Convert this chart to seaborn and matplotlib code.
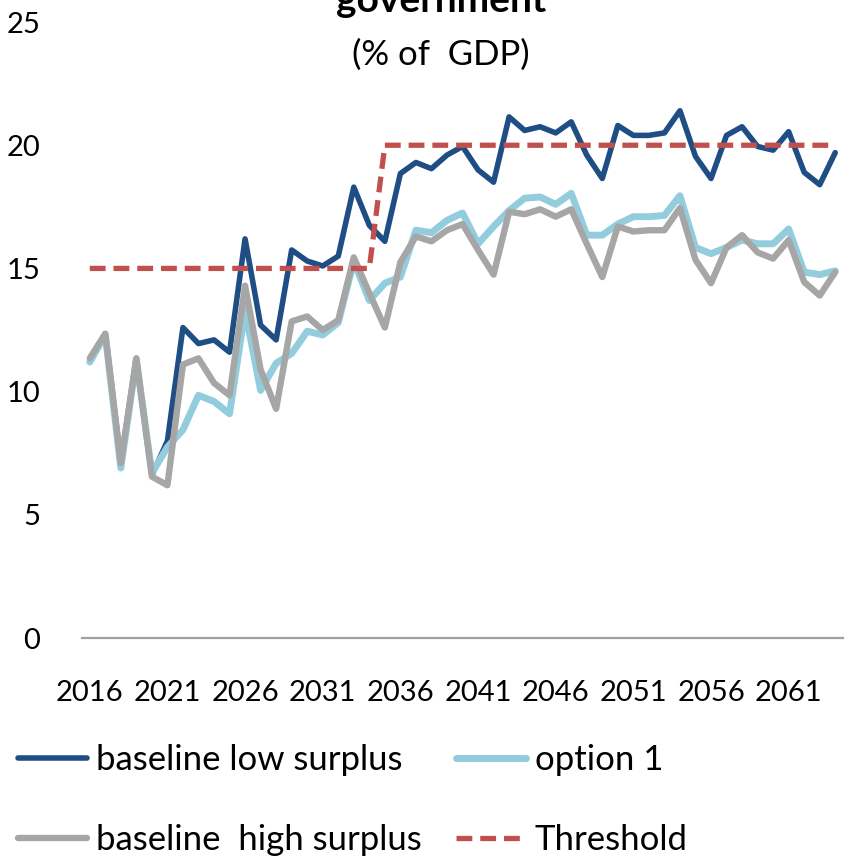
import numpy as np
import pandas as pd
import matplotlib
matplotlib.use("Agg")
import matplotlib.pyplot as plt
from matplotlib.lines import Line2D
import seaborn as sb

sb.set_style("white")
plt.rcParams['font.family'] = ['Lato', 'DejaVu Sans']
plt.rcParams.update({'text.color': 'black', 'xtick.color': 'black', 'ytick.color': 'black'})

# === DATA ===
years = list(range(2016, 2065))

baseline_low = [11.35, 12.35, 7.1, 11.35, 6.6, 8.0, 12.6, 11.95, 12.1, 11.6,
                16.2, 12.7, 12.1, 15.75, 15.3, 15.1, 15.5, 18.3, 16.75, 16.1,
                18.85, 19.3, 19.05, 19.6, 19.95, 19.0, 18.5, 21.15, 20.6, 20.75,
                20.5, 20.95, 19.6, 18.65, 20.8, 20.4, 20.4, 20.5, 21.4, 19.55,
                18.65, 20.4, 20.75, 19.95, 19.8, 20.55, 18.9, 18.4, 19.7]

option_1 = [11.2, 12.3, 6.9, 11.3, 6.7, 7.75, 8.45, 9.85, 9.6, 9.1,
            13.3, 10.05, 11.15, 11.55, 12.45, 12.3, 12.8, 15.3, 13.7, 14.4,
            14.65, 16.55, 16.45, 16.95, 17.25, 16.0, 16.7, 17.35, 17.85, 17.9,
            17.6, 18.05, 16.35, 16.35, 16.8, 17.1, 17.1, 17.15, 17.95, 15.85,
            15.6, 15.85, 16.15, 16.0, 16.0, 16.6, 14.85, 14.75, 14.9]

baseline_high = [11.35, 12.35, 7.1, 11.35, 6.55, 6.2, 11.1, 11.35, 10.35, 9.85,
                 14.3, 10.9, 9.3, 12.85, 13.05, 12.5, 12.9, 15.45, 14.0, 12.6,
                 15.25, 16.3, 16.1, 16.55, 16.8, 15.75, 14.75, 17.3, 17.2, 17.4,
                 17.1, 17.4, 16.0, 14.65, 16.7, 16.5, 16.55, 16.55, 17.45, 15.35,
                 14.4, 15.85, 16.35, 15.65, 15.4, 16.15, 14.45, 13.9, 14.85]

threshold = [15] * 19 + [20] * 30

labels = ['baseline low surplus', 'option 1', 'baseline  high surplus', 'Threshold']
colors = {'baseline low surplus': '#1f4e85', 'option 1': '#93cddd',
          'baseline  high surplus': '#a6a6a6', 'Threshold': '#c0504d'}

data = pd.DataFrame({'Year': years,
                     'baseline low surplus': baseline_low,
                     'option 1': option_1,
                     'baseline  high surplus': baseline_high,
                     'Threshold': threshold})

# === PLOT ===
fig = plt.figure(figsize=(8.47, 8.61), dpi=100)
ax = fig.add_axes([0.0968, 0.259, 0.8985, 0.7154])

widths = {'baseline low surplus': 4.0, 'option 1': 5.0,
          'baseline  high surplus': 4.6, 'Threshold': 3.8}
dash = (0, (3.0, 1.5))

for name in labels:
    sb.lineplot(x='Year', y=name, data=data, ax=ax, color=colors[name],
                linewidth=widths[name], legend=False)
ax.lines[-1].set_linestyle(dash)

ax.set_xlim(2015.5, 2064.5)
ax.set_ylim(0, 25)
ax.set_xticks(range(2016, 2065, 5))
ax.set_yticks(range(0, 26, 5))
ax.set_xlabel('')
ax.set_ylabel('')
ax.tick_params(axis='both', length=0, labelsize=21)
ax.tick_params(axis='y', pad=30)
ax.tick_params(axis='x', pad=30)
for s in ['top', 'right', 'left']:
    ax.spines[s].set_visible(False)
ax.spines['bottom'].set_color('#a0a0a0')
ax.spines['bottom'].set_linewidth(1.6)

# title (first line cut off at the top of the picture)
fig.text(0.521, 0.986, 'government', ha='center', va='baseline',
         fontsize=28, fontweight='bold')
fig.text(0.521, 0.936, '(% of  GDP)', ha='center', va='center', fontsize=25)

order = ['baseline low surplus', 'baseline  high surplus', 'option 1', 'Threshold']
handles = []
for name in order:
    ls = dash if name == 'Threshold' else '-'
    handles.append(Line2D([], [], color=colors[name], linewidth=widths[name], linestyle=ls))
fig.legend(handles, order, loc='upper left', bbox_to_anchor=(0.021, 0.136),
           ncol=2, frameon=False, fontsize=25, handlelength=2.0,
           handletextpad=0.25, columnspacing=1.0, labelspacing=1.38,
           borderpad=0, borderaxespad=0)

fig.savefig('out.png', dpi=100)
